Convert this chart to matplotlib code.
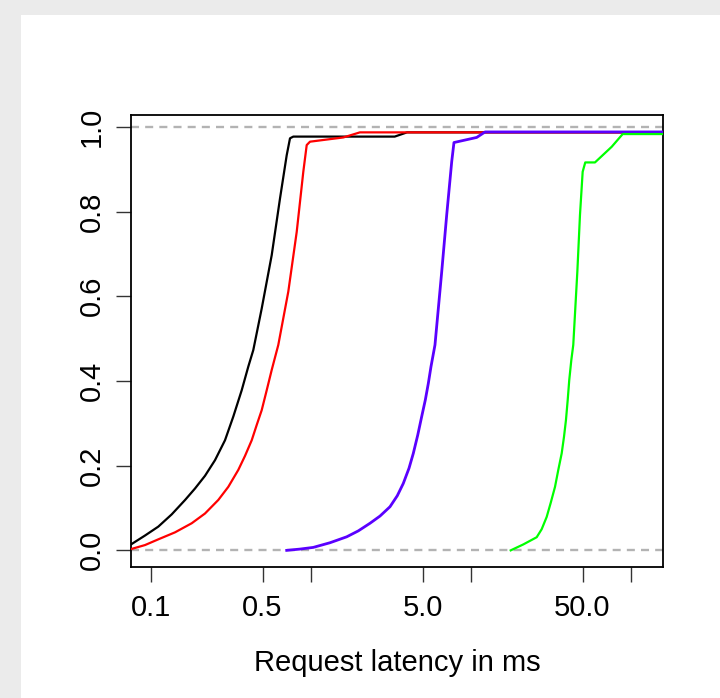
import matplotlib
matplotlib.use("Agg")
import matplotlib.pyplot as plt
from matplotlib.patches import Rectangle

# latency (ms) and cumulative share
black_x = [0.0753, 0.0921, 0.1115, 0.1353, 0.164, 0.1891, 0.2184, 0.2523, 0.2913, 0.3283, 0.3704,
           0.4074, 0.4377, 0.494, 0.5705, 0.6429, 0.7079, 0.7424, 0.7785, 3.35, 4.0, 160]
black_y = [0.014, 0.035, 0.056, 0.085, 0.119, 0.146, 0.176, 0.213, 0.26, 0.316, 0.378,
           0.434, 0.473, 0.571, 0.697, 0.831, 0.933, 0.973, 0.977, 0.977, 0.987, 0.987]

red_x = [0.0753, 0.0921, 0.1115, 0.1418, 0.1804, 0.2184, 0.2645, 0.3055, 0.3528, 0.3884, 0.4279,
         0.4597, 0.494, 0.5309, 0.5705, 0.6272, 0.7244, 0.8176, 0.899, 0.9441, 0.99, 1.6, 2.03, 160]
red_y = [0.003, 0.0125, 0.026, 0.0425, 0.064, 0.087, 0.119, 0.15, 0.19, 0.223, 0.26,
         0.296, 0.331, 0.378, 0.426, 0.485, 0.611, 0.752, 0.894, 0.957, 0.965, 0.975, 0.987, 0.987]

blue_x = [0.708, 0.857, 1.038, 1.32, 1.679, 1.984, 2.348, 2.711, 3.13, 3.477, 3.79, 4.116, 4.378,
          4.665, 4.94, 5.203, 5.433, 5.648, 5.98, 6.59, 7.08, 7.61, 7.86, 10.9, 12.3, 160]
blue_y = [0.0, 0.003, 0.007, 0.018, 0.032, 0.046, 0.064, 0.081, 0.103, 0.129, 0.158, 0.194, 0.229,
          0.272, 0.316, 0.355, 0.394, 0.434, 0.485, 0.658, 0.792, 0.918, 0.963, 0.975, 0.988, 0.988]

green_x = [17.78, 21.32, 25.85, 27.78, 29.85, 31.62, 33.65, 35.28, 37.04, 38.29, 39.4, 40.39, 41.3,
           42.54, 43.76, 46.4, 48.2, 50.1, 52.0, 59.8, 76.1, 89.1, 160]
green_y = [0.0, 0.014, 0.031, 0.05, 0.079, 0.112, 0.15, 0.19, 0.229, 0.268, 0.308, 0.355, 0.402,
           0.449, 0.485, 0.658, 0.792, 0.894, 0.916, 0.916, 0.953, 0.983, 0.983]

x_ticks = [0.1, 0.5, 1, 5, 10, 50, 100]
x_ticklabels = ["0.1", "0.5", "", "5.0", "", "50.0", ""]
y_ticks = [0.0, 0.2, 0.4, 0.6, 0.8, 1.0]
y_ticklabels = ["0.0", "0.2", "0.4", "0.6", "0.8", "1.0"]

plt.rcParams['font.family'] = ['Liberation Sans', 'DejaVu Sans']

fig = plt.figure(figsize=(7.2, 6.98), dpi=100, facecolor="#ebebeb")
fig.add_artist(Rectangle((21 / 720, 0), 1, 1 - 15 / 698, transform=fig.transFigure,
                         facecolor="white", edgecolor="none", zorder=-10))

ax = fig.add_axes([131 / 720, 1 - 567.3 / 698, (663 - 131) / 720, (567.3 - 115) / 698])
ax.set_zorder(1)
ax.set_xscale("log")

dash = (0, (3.4, 2.6))
ax.axhline(0, color="#b3b3b3", lw=1.7, ls=dash, zorder=1)
ax.axhline(1, color="#b3b3b3", lw=1.7, ls=dash, zorder=1)

ax.plot(black_x, black_y, color="black", lw=1.6, zorder=2)
ax.plot(red_x, red_y, color="#ff0000", lw=1.6, zorder=3)
ax.plot(blue_x, blue_y, color="#5a00ff", lw=2.0, zorder=4)
ax.plot(green_x, green_y, color="#00ff00", lw=1.6, zorder=5)

ax.set_xlim(0.0753, 159.2)
ax.set_ylim(-0.040, 1.028)

ax.set_xticks(x_ticks)
ax.set_xticklabels(x_ticklabels)
ax.xaxis.set_minor_locator(matplotlib.ticker.NullLocator())
ax.set_yticks(y_ticks)
ax.set_yticklabels(y_ticklabels, rotation=90, va="center")

ax.tick_params(axis="both", length=11, width=1, labelsize=21, color="#333333")
ax.tick_params(axis="x", pad=8)
ax.tick_params(axis="y", pad=7)
for s in ax.spines.values():
    s.set_linewidth(1.3)

ax.set_xlabel("Request latency in ms", fontsize=21, labelpad=20)

fig.savefig("out.png", dpi=100, facecolor=fig.get_facecolor())
